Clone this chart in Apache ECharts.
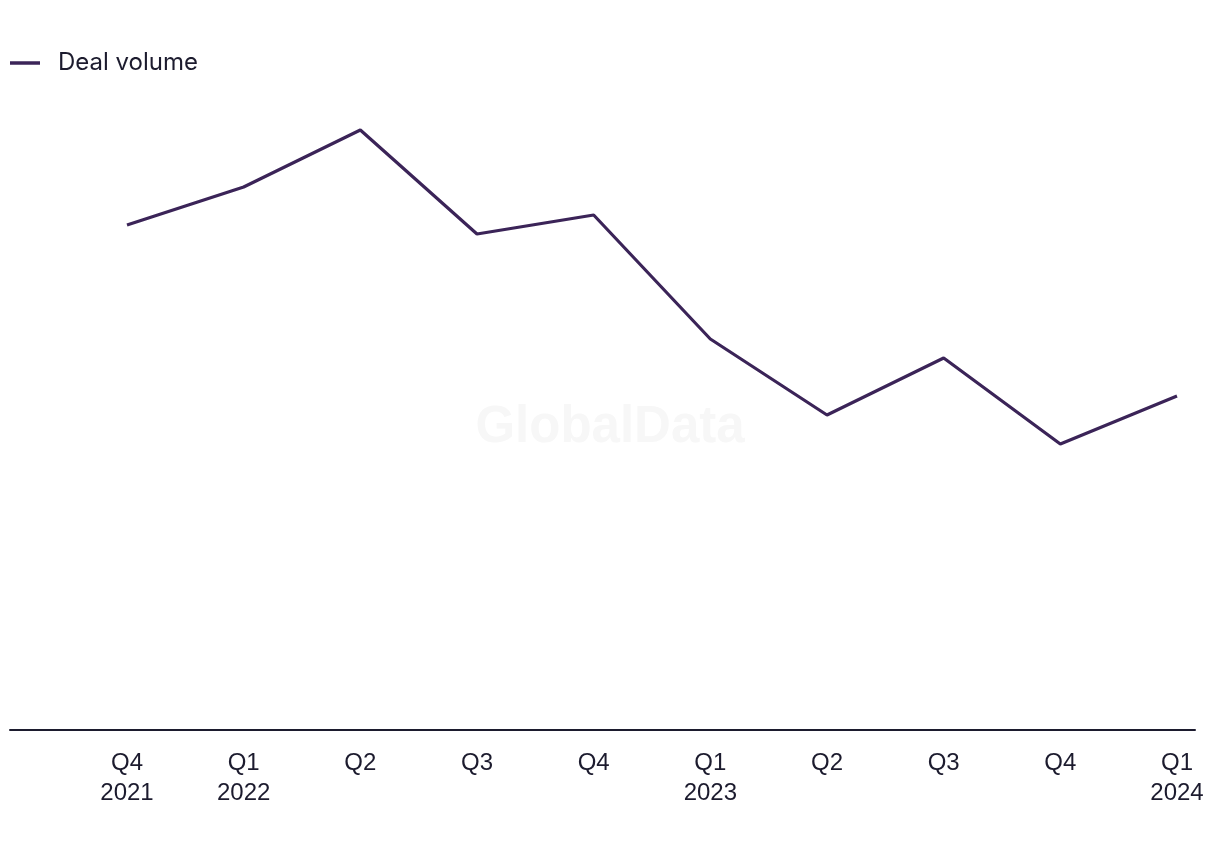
<!DOCTYPE html>
<html>
<head>
<meta charset="utf-8">
<script src="https://cdn.jsdelivr.net/npm/echarts@6/dist/echarts.min.js"></script>
<style>
html,body{margin:0;padding:0;background:#fff;}
#chart{width:1220px;height:850px;}
</style>
</head>
<body>
<div id="chart"></div>
<script>
const categories = ['Q4\n2021','Q1\n2022','Q2','Q3','Q4','Q1\n2023','Q2','Q3','Q4','Q1\n2024'];
const dealVolume = [252.5, 271.5, 300, 248, 257.5, 195.5, 157.5, 186, 143, 167];
const seriesName = 'Deal volume';

const chart = echarts.init(document.getElementById('chart'));
chart.setOption({
  animation: false,
  backgroundColor: '#ffffff',
  graphic: [{
    type: 'text',
    left: 'center',
    top: 402,
    z: -10,
    style: {
      text: 'GlobalData',
      font: 'bold 51px "Liberation Sans", Arial, sans-serif',
      fill: '#f7f7f7'
    }
  }],
  legend: {
    left: 5,
    top: 46,
    itemWidth: 30,
    itemHeight: 3.5,
    itemGap: 20,
    icon: 'rect',
    textStyle: { fontSize: 24, color: '#1c1b2e', fontFamily: 'Inter, "Liberation Sans", sans-serif', padding: [0,0,0,13] },
    data: [seriesName]
  },
  grid: [
    { left: 127, right: 43, top: 30, bottom: 120 },
    { left: 10, right: 25, top: 30, bottom: 120 }
  ],
  xAxis: [
    {
      type: 'category',
      gridIndex: 0,
      data: categories,
      boundaryGap: false,
      axisLine: { show: false },
      axisTick: { show: false },
      axisLabel: {
        margin: 18,
        fontSize: 24,
        lineHeight: 30,
        color: '#1c1b2e',
        fontFamily: '"Liberation Sans", Arial, sans-serif',
        interval: 0
      },
      splitLine: { show: false }
    },
    {
      type: 'value',
      gridIndex: 1,
      min: 0, max: 1,
      axisLine: { show: true, lineStyle: { color: '#1c1b2e', width: 2 } },
      axisTick: { show: false },
      axisLabel: { show: false },
      splitLine: { show: false }
    }
  ],
  yAxis: [
    { type: 'value', gridIndex: 0, min: 0, max: 350, show: false, splitLine: { show: false } },
    { type: 'value', gridIndex: 1, min: 0, max: 1, show: false, splitLine: { show: false } }
  ],
  series: [{
    name: seriesName,
    type: 'line',
    xAxisIndex: 0,
    yAxisIndex: 0,
    data: dealVolume,
    symbol: 'none',
    lineStyle: { color: '#3b2458', width: 3.2 },
    itemStyle: { color: '#3b2458' }
  }]
});
</script>
</body>
</html>
